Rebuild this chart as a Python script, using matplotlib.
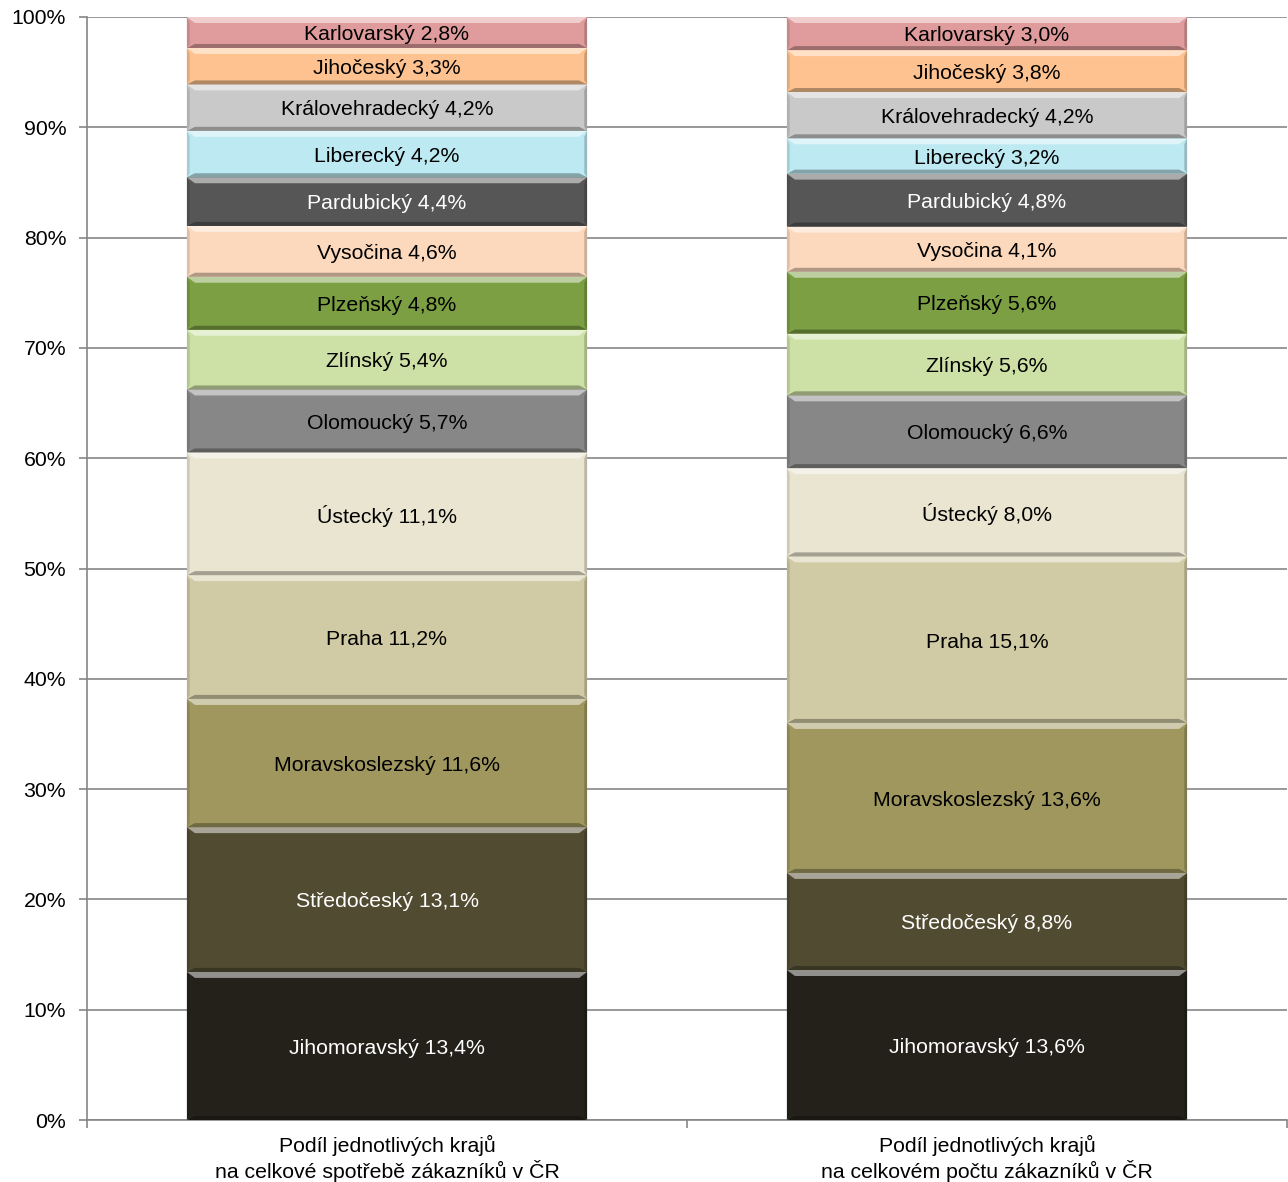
import matplotlib
matplotlib.use("Agg")
import matplotlib.pyplot as plt
from matplotlib.patches import Polygon
from matplotlib.colors import to_rgb
import numpy as np

plt.rcParams['font.family'] = ['Liberation Sans', 'DejaVu Sans']

categories = ["Podíl jednotlivých krajů\nna celkové spotřebě zákazníků v ČR",
              "Podíl jednotlivých krajů\nna celkovém počtu zákazníků v ČR"]
regions = ["Jihomoravský", "Středočeský", "Moravskoslezský", "Praha", "Ústecký",
           "Olomoucký", "Zlínský", "Plzeňský", "Vysočina", "Pardubický",
           "Liberecký", "Královehradecký", "Jihočeský", "Karlovarský"]
spotreba = [13.4, 13.1, 11.6, 11.2, 11.1, 5.7, 5.4, 4.8, 4.6, 4.4, 4.2, 4.2, 3.3, 2.8]
pocet = [13.6, 8.8, 13.6, 15.1, 8.0, 6.6, 5.6, 5.6, 4.1, 4.8, 3.2, 4.2, 3.8, 3.0]
colors = ["#23211a", "#504b31", "#a0975e", "#d0cba4", "#e9e5d0",
          "#878787", "#cde0a5", "#7b9f42", "#fcd9bd", "#565656",
          "#bde9f2", "#c9c9c9", "#fdc28f", "#e09c9c"]
text_colors = ["white", "white", "black", "black", "black", "black", "black",
               "black", "black", "white", "black", "black", "black", "black"]
yticks = [0, 10, 20, 30, 40, 50, 60, 70, 80, 90, 100]

W, H = 1288, 1182
fig = plt.figure(figsize=(W / 100, H / 100), dpi=100)
ax = fig.add_axes([87 / W, (H - 1120) / H, (1287 - 87) / W, (1120 - 17) / H])
ax.set_xlim(-0.5, 1.5)
ax.set_ylim(0, 100)

FS = 15.3
grid_c = "#868686"
ax.set_yticks(yticks)
ax.set_yticklabels([f"{t}%" for t in yticks], fontsize=FS)
ax.yaxis.grid(True, color=grid_c, linewidth=1.2)
ax.set_axisbelow(True)
for s in ["top", "right"]:
    ax.spines[s].set_visible(False)
ax.spines["left"].set_color(grid_c)
ax.spines["bottom"].set_color(grid_c)
ax.spines["left"].set_linewidth(1.2)
ax.spines["bottom"].set_linewidth(1.2)
ax.tick_params(axis="y", length=6, color=grid_c, width=1.2, pad=9)
ax.set_xticks([-0.5, 0.5, 1.5])
ax.set_xticklabels([])
ax.tick_params(axis="x", length=6, color=grid_c, width=1.2)
ax.set_xticks([0, 1], minor=True)
ax.set_xticklabels(categories, minor=True, fontsize=FS, linespacing=1.2)
ax.tick_params(axis="x", which="minor", length=0, pad=11)

width = 0.667
px_x = 2.0 / (1287 - 87)
px_y = 100.0 / (1120 - 17)


def blend(c, t, amt):
    c = np.array(to_rgb(c)); t = np.array(to_rgb(t))
    return tuple(c * (1 - amt) + t * amt)


for xi, series in enumerate([spotreba, pocet]):
    vals = np.array(series, dtype=float)
    norm = vals / vals.sum() * 100
    bottoms = np.concatenate([[0], np.cumsum(norm)[:-1]])
    ax.bar([xi] * len(norm), norm, width=width, bottom=bottoms,
           color=colors, edgecolor="none", zorder=2)
    for name, v, nv, b, c, tc in zip(regions, vals, norm, bottoms, colors, text_colors):
        x0, x1 = xi - width / 2, xi + width / 2
        y0, y1 = b, b + nv
        dx = 8 * px_x
        dyt = 6 * px_y
        dyb = 4 * px_y
        ax.add_patch(Polygon([(x0, y1), (x1, y1), (x1 - dx, y1 - dyt), (x0 + dx, y1 - dyt)],
                             closed=True, facecolor=blend(c, "white", 0.5),
                             edgecolor="none", zorder=3))
        ax.add_patch(Polygon([(x0, y0), (x1, y0), (x1 - dx, y0 + dyb), (x0 + dx, y0 + dyb)],
                             closed=True, facecolor=blend(c, "black", 0.3),
                             edgecolor="none", zorder=3))
        ax.add_patch(Polygon([(x0, y0), (x0 + dx * 0.35, y0 + dyb), (x0 + dx * 0.35, y1 - dyt), (x0, y1)],
                             closed=True, facecolor=blend(c, "black", 0.12),
                             edgecolor="none", zorder=3))
        ax.add_patch(Polygon([(x1, y0), (x1 - dx * 0.35, y0 + dyb), (x1 - dx * 0.35, y1 - dyt), (x1, y1)],
                             closed=True, facecolor=blend(c, "black", 0.2),
                             edgecolor="none", zorder=3))
        label = f"{name} {v:.1f}%".replace(".", ",")
        ax.text(xi, b + nv / 2 - 0.2, label, ha="center", va="center",
                color=tc, fontsize=FS, zorder=4)

fig.savefig("out.png", dpi=100)
